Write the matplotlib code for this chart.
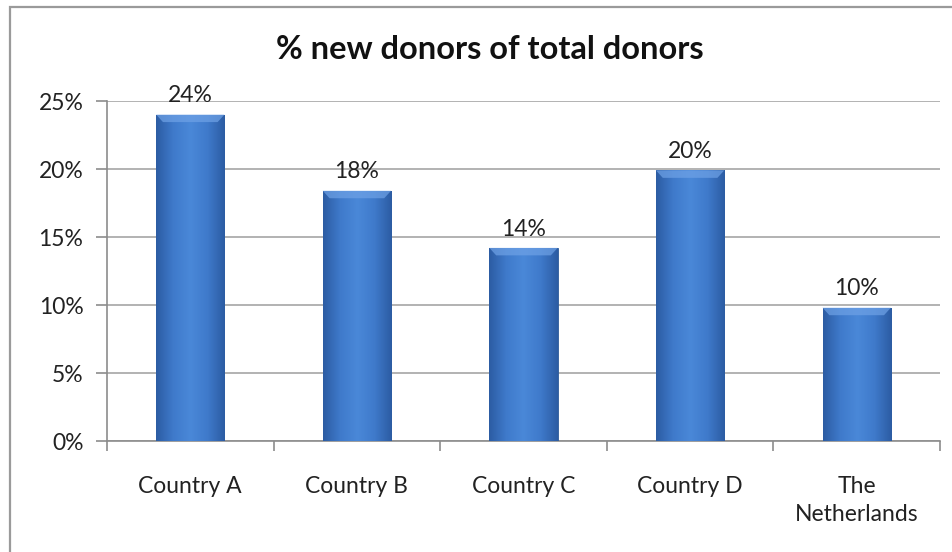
import numpy as np
import matplotlib
matplotlib.use("Agg")
import matplotlib.pyplot as plt
from matplotlib.colors import LinearSegmentedColormap
from matplotlib.patches import Rectangle
from matplotlib.ticker import PercentFormatter

# data
categories = ["Country A", "Country B", "Country C", "Country D", "The\nNetherlands"]
values = [24.0, 18.4, 14.2, 19.9, 9.8]
labels = ["24%", "18%", "14%", "20%", "10%"]
title = "% new donors of total donors"

plt.rcParams["font.family"] = ["Lato", "DejaVu Sans"]

fig = plt.figure(figsize=(9.53, 5.52), dpi=100)
ax = fig.add_axes([107 / 953, 1 - 441 / 552, (940 - 107) / 953, (441 - 101) / 552])

# chart border (only left and top visible in the reference)
fig.patches.append(Rectangle((10 / 953, -0.1), 1.2, 1 - 7 / 552 + 0.1,
                             transform=fig.transFigure, fill=False,
                             edgecolor="#9a9a9a", lw=1.6))

x = np.arange(len(categories))
width = 0.41
bars = ax.bar(x, values, width=width, color="#3d77c4", edgecolor="#2c5a98",
              lw=0.6, zorder=3)

# horizontal gradient for an Excel-like bevel look
cmap = LinearSegmentedColormap.from_list(
    "bev", ["#2c5ca3", "#3f7acb", "#4a88d8", "#3f7acb", "#2c5ca3"])
grad = np.linspace(0, 1, 200).reshape(1, -1)
for b in bars:
    x0, w, h = b.get_x(), b.get_width(), b.get_height()
    im = ax.imshow(grad, extent=[x0, x0 + w, 0, h], aspect="auto",
                   cmap=cmap, zorder=3.5)
    im.set_clip_path(b)
    # lighter top bevel
    ax.fill([x0, x0 + w, x0 + w * 0.9, x0 + w * 0.1],
            [h, h, h - 0.55, h - 0.55], color="#6fa2e6", alpha=0.7,
            lw=0, zorder=4)

for xi, v, lab in zip(x, values, labels):
    ax.annotate(lab, (xi, v), xytext=(0, 6), textcoords="offset points",
                ha="center", va="bottom", fontsize=16.5, color="#222222")

ax.set_xlim(-0.5, len(categories) - 0.5)
ax.set_ylim(0, 25)
ax.set_yticks(np.arange(0, 26, 5))
ax.yaxis.set_major_formatter(PercentFormatter(decimals=0))
ax.set_xticks(x)
ax.set_xticklabels(categories, linespacing=1.4)
ax.set_xticks(np.arange(len(categories) + 1) - 0.5, minor=True)

ax.grid(axis="y", color="#a6a6a6", lw=1.2, zorder=0)
ax.tick_params(axis="x", which="major", length=0, pad=25, labelsize=16.5,
               labelcolor="#222222")
ax.tick_params(axis="x", which="minor", length=7.5, color="#8c8c8c", width=1.2)
ax.tick_params(axis="y", length=8, color="#8c8c8c", width=1.2, pad=9,
               labelsize=16.5, labelcolor="#222222")

for s in ["top", "right"]:
    ax.spines[s].set_visible(False)
for s in ["left", "bottom"]:
    ax.spines[s].set_color("#8c8c8c")
    ax.spines[s].set_linewidth(1.2)

fig.text(490 / 953, 1 - 49 / 552, title, ha="center", va="center",
         fontsize=23.5, fontweight="bold", color="#111111")

fig.savefig("out.png", dpi=100)
